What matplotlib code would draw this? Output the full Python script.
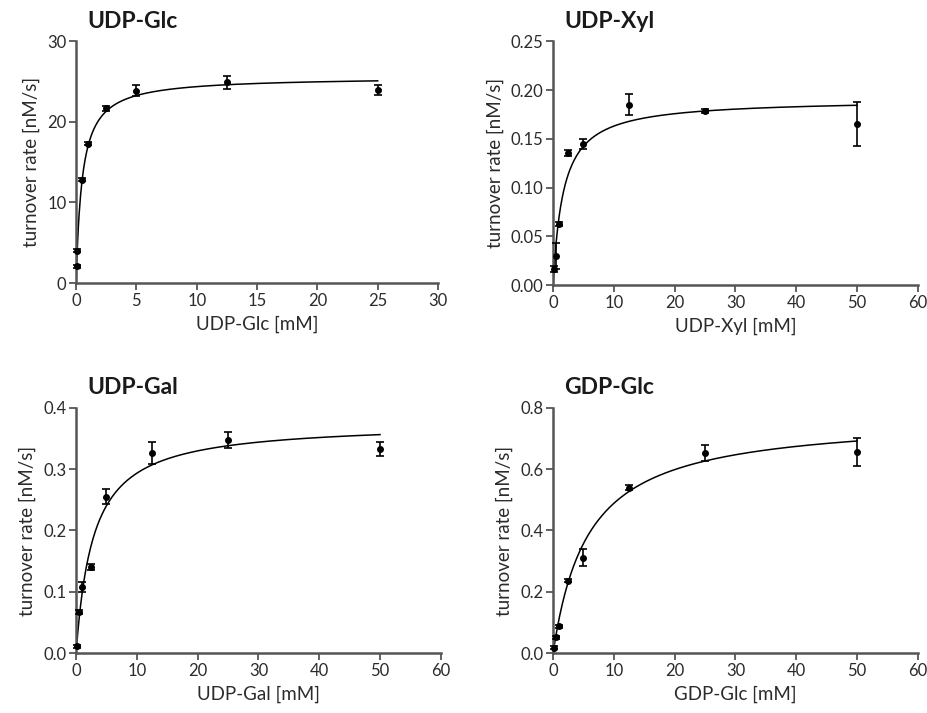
import numpy as np
import matplotlib
matplotlib.use("Agg")
import matplotlib.pyplot as plt

plt.rcParams["font.family"] = ["Lato", "DejaVu Sans"]

# substrate concentrations [mM]
conc_glc = [0.05, 0.1, 0.5, 1, 2.5, 5, 12.5, 25]
conc_50 = [0.1, 0.5, 1, 2.5, 5, 12.5, 25, 50]

# turnover rates [nM/s] and error bars
rate_udp_glc = [2.1, 4.0, 12.85, 17.3, 21.7, 23.9, 24.9, 24.0]
err_udp_glc = [0.2, 0.2, 0.2, 0.2, 0.3, 0.7, 0.8, 0.6]

rate_udp_xyl = [0.017, 0.030, 0.063, 0.1355, 0.1445, 0.185, 0.179, 0.1655]
err_udp_xyl = [0.003, 0.0135, 0.002, 0.003, 0.005, 0.011, 0.002, 0.0228]

rate_udp_gal = [0.011, 0.067, 0.108, 0.140, 0.255, 0.326, 0.347, 0.333]
err_udp_gal = [0.003, 0.003, 0.008, 0.005, 0.012, 0.018, 0.013, 0.011]

rate_gdp_glc = [0.0175, 0.052, 0.087, 0.236, 0.311, 0.540, 0.653, 0.655]
err_gdp_glc = [0.005, 0.005, 0.005, 0.005, 0.027, 0.008, 0.025, 0.045]

# Michaelis-Menten fit parameters (Vmax, Km)
fit_vmax = [25.6, 0.1907, 0.3765, 0.772]
fit_km = [0.5, 1.69, 2.83, 5.8]

titles = ["UDP-Glc", "UDP-Xyl", "UDP-Gal", "GDP-Glc"]
xlabels = ["UDP-Glc [mM]", "UDP-Xyl [mM]", "UDP-Gal [mM]", "GDP-Glc [mM]"]
concs = [conc_glc, conc_50, conc_50, conc_50]
rates = [rate_udp_glc, rate_udp_xyl, rate_udp_gal, rate_gdp_glc]
errs = [err_udp_glc, err_udp_xyl, err_udp_gal, err_gdp_glc]
xticks = [np.arange(0, 31, 5), np.arange(0, 61, 10), np.arange(0, 61, 10), np.arange(0, 61, 10)]
yticks = [[0, 10, 20, 30], [0, 0.05, 0.10, 0.15, 0.20, 0.25],
          [0, 0.1, 0.2, 0.3, 0.4], [0, 0.2, 0.4, 0.6, 0.8]]
yfmt = ["{:.0f}", "{:.2f}", "{:.1f}", "{:.1f}"]

# axes rectangles in figure fraction
positions = [[0.082, 0.603, 0.390, 0.339],
             [0.596, 0.600, 0.393, 0.342],
             [0.082, 0.084, 0.393, 0.344],
             [0.596, 0.084, 0.393, 0.344]]

axis_col = "#555555"
text_col = "#2b2b2b"

fig = plt.figure(figsize=(9.28, 7.13), dpi=100)

for i in range(4):
    ax = fig.add_axes(positions[i])
    x = np.array(concs[i])
    y = np.array(rates[i])

    # fitted curve
    xs = np.linspace(0, x.max(), 400)
    ax.plot(xs, fit_vmax[i] * xs / (fit_km[i] + xs), color="black", lw=1.1, zorder=2)

    ax.errorbar(x, y, yerr=errs[i], fmt="o", color="black", ms=4,
                elinewidth=1.2, capsize=3, capthick=1.2, clip_on=False, zorder=3)

    ax.set_xlim(xticks[i][0], xticks[i][-1])
    ax.set_ylim(yticks[i][0], yticks[i][-1])
    ax.set_xticks(xticks[i])
    ax.set_yticks(yticks[i])
    ax.set_yticklabels([yfmt[i].format(v) for v in yticks[i]])

    for side in ["top", "right"]:
        ax.spines[side].set_visible(False)
    for side in ["left", "bottom"]:
        ax.spines[side].set_color(axis_col)
        ax.spines[side].set_linewidth(1.8)
    ax.tick_params(direction="out", length=5, width=1.3, color=axis_col,
                   labelsize=12, labelcolor=text_col, pad=2)

    ax.set_xlabel(xlabels[i], fontsize=13.5, color=text_col, labelpad=5)
    ax.set_ylabel("turnover rate [nM/s]", fontsize=13.5, color=text_col, labelpad=5)
    ax.text(0.03, 1.04, titles[i], transform=ax.transAxes, fontsize=16.5,
            fontweight="bold", color="#1a1a1a", ha="left", va="bottom")

fig.savefig("out.png", dpi=100)
